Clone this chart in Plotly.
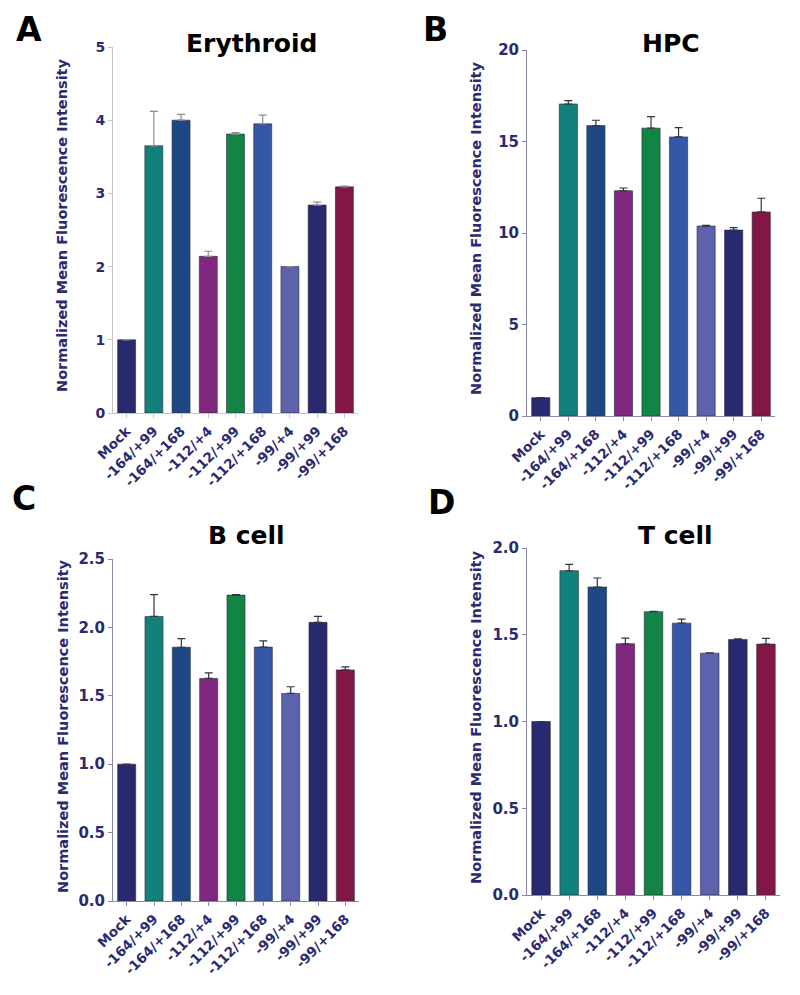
import plotly.graph_objects as go

categories = ["Mock", "-164/+99", "-164/+168", "-112/+4", "-112/+99",
              "-112/+168", "-99/+4", "-99/+99", "-99/+168"]
bar_colors = ["#28296f", "#12817b", "#1e4885", "#80277f", "#128446",
              "#3657a7", "#5d62ad", "#28296f", "#821645"]

# Panel A: Erythroid
ery_mean = [1.0, 3.65, 4.0, 2.14, 3.81, 3.95, 2.0, 2.84, 3.09]
ery_err = [0.0, 0.47, 0.08, 0.07, 0.02, 0.12, 0.0, 0.04, 0.01]
# Panel B: HPC
hpc_mean = [1.0, 17.05, 15.87, 12.31, 15.73, 15.25, 10.38, 10.16, 11.15]
hpc_err = [0.0, 0.18, 0.29, 0.15, 0.63, 0.51, 0.04, 0.13, 0.75]
# Panel C: B cell
bcell_mean = [1.0, 2.08, 1.855, 1.627, 2.236, 1.856, 1.517, 2.037, 1.689]
bcell_err = [0.0, 0.16, 0.063, 0.041, 0.004, 0.045, 0.049, 0.044, 0.022]
# Panel D: T cell
tcell_mean = [1.0, 1.869, 1.775, 1.448, 1.633, 1.567, 1.394, 1.473, 1.446]
tcell_err = [0.0, 0.037, 0.052, 0.033, 0.002, 0.023, 0.002, 0.004, 0.033]

titles = ["Erythroid", "HPC", "B cell", "T cell"]
letters = ["A", "B", "C", "D"]
y_ranges = [[0, 5], [0, 20], [0, 2.5], [0, 2.0]]
y_dtick = [1, 5, 0.5, 0.5]
y_fmt = ["d", "d", ".1f", ".1f"]

# page has an 8px body margin: figure drawn at (8, 8)
OFF = 8
W, H = 800 - OFF, 995 - OFF


def px(x):
    return (x - OFF) / W


def py(y):
    return 1 - (y - OFF) / H


# pixel boxes on screen: (x0, x1, ytop, ybottom)
boxes = [(113, 358, 47, 413), (527, 775, 50, 416),
         (113, 359, 559, 901), (527, 780, 548, 895)]
axis_colors = ["#c6c6d2", "#8a8aa8", "#8a8aa8", "#8a8aa8"]
err_colors = ["#8c8c8c", "#333344", "#333344", "#333344"]
tick_sizes = [14, 15, 15, 15]
title_pos = [(251, 43), (671, 43), (246, 535), (675, 535)]
# panel letters: (x center, y top of text box)
letter_pos = [(29, 8), (435, 8), (24, 477), (441, 481)]
ytitle_pos = [(62, 225), (476, 228), (63, 726), (476, 717)]

navy = "#2a2a72"
font_family = "DejaVu Sans"

series = [(ery_mean, ery_err), (hpc_mean, hpc_err),
          (bcell_mean, bcell_err), (tcell_mean, tcell_err)]

fig = go.Figure()
annotations = []
layout_axes = {}
for i, (means, errs) in enumerate(series):
    sfx = "" if i == 0 else str(i + 1)
    fig.add_trace(go.Bar(
        x=categories, y=means,
        xaxis="x" + sfx, yaxis="y" + sfx,
        width=0.66,
        marker=dict(color=bar_colors, line=dict(color="#2a2a3a", width=0.6)),
        error_y=dict(type="data", symmetric=False, array=errs,
                     arrayminus=[0] * len(errs), color=err_colors[i],
                     thickness=1.2, width=4),
        showlegend=False,
    ))
    x0, x1, yt, yb = boxes[i]
    layout_axes["xaxis" + sfx] = dict(
        domain=[px(x0), px(x1)], anchor="y" + sfx, automargin=False,
        range=[-0.5, 8.5], showline=True, linecolor=axis_colors[i],
        linewidth=1, ticks="outside", ticklen=4, tickcolor=axis_colors[i],
        tickangle=-45, showgrid=False, zeroline=False,
        tickfont=dict(family=font_family, size=13.5, color=navy,
                      weight="bold"),
        fixedrange=True,
    )
    layout_axes["yaxis" + sfx] = dict(
        domain=[py(yb), py(yt)], anchor="x" + sfx, automargin=False,
        range=y_ranges[i], dtick=y_dtick[i], tick0=0,
        tickformat=y_fmt[i], showline=True, linecolor=axis_colors[i],
        linewidth=1, ticks="outside", ticklen=4, tickcolor=axis_colors[i],
        showgrid=False, zeroline=False,
        tickfont=dict(family=font_family, size=tick_sizes[i], color=navy,
                      weight="bold"),
        fixedrange=True,
    )
    tx, ty = title_pos[i]
    annotations.append(dict(
        text=titles[i], x=px(tx), y=py(ty), xref="paper", yref="paper",
        showarrow=False, xanchor="center", yanchor="middle",
        font=dict(family=font_family, size=25, color="black", weight="bold"),
    ))
    lx, ly = letter_pos[i]
    annotations.append(dict(
        text=letters[i], x=px(lx), y=py(ly), xref="paper", yref="paper",
        showarrow=False, xanchor="center", yanchor="top",
        font=dict(family=font_family, size=33, color="black", weight="bold"),
    ))
    ax_, ay_ = ytitle_pos[i]
    annotations.append(dict(
        text="Normalized Mean Fluorescence Intensity",
        x=px(ax_), y=py(ay_), xref="paper", yref="paper",
        showarrow=False, xanchor="center", yanchor="middle", textangle=-90,
        font=dict(family=font_family, size=14.5, color=navy, weight="bold"),
    ))

fig.update_layout(
    width=W, height=H,
    margin=dict(l=0, r=0, t=0, b=0, autoexpand=False),
    paper_bgcolor="white", plot_bgcolor="white",
    bargap=0.34,
    annotations=annotations,
    **layout_axes,
)

fig.write_html("out.html")
